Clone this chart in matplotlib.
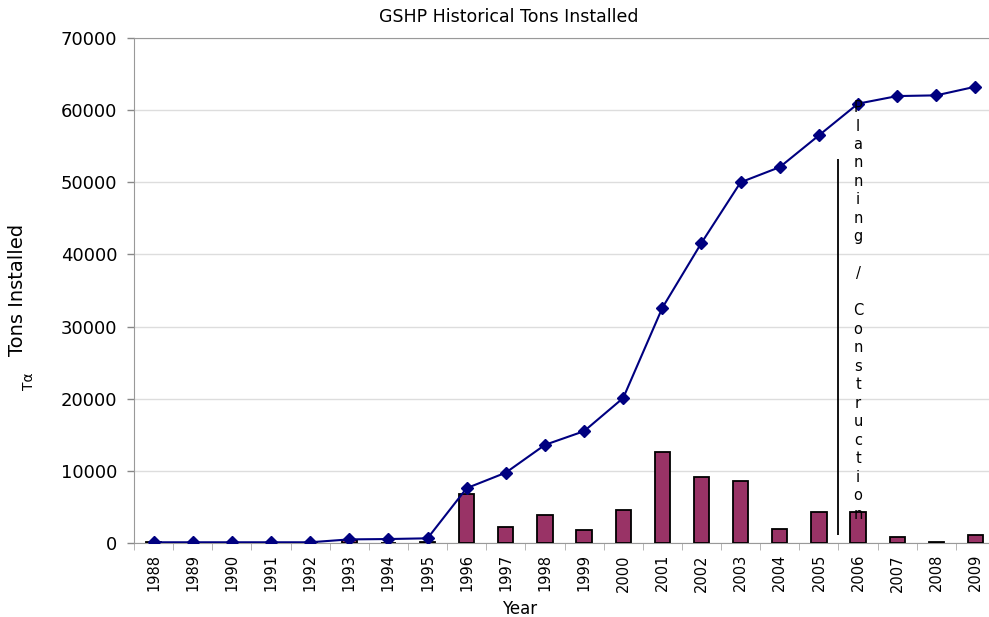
import numpy as np
import matplotlib
matplotlib.use("Agg")
import matplotlib.pyplot as plt

# data
years = [str(y) for y in range(1988, 2010)]
annual_tons = [100, 0, 0, 0, 0, 450, 0, 200, 6800, 2200, 3850, 1850,
               4550, 12550, 9100, 8650, 2000, 4350, 4350, 870, 150, 1150]
cumulative_tons = [100, 100, 100, 100, 100, 500, 550, 650, 7600, 9750, 13600, 15500,
                   20100, 32600, 41600, 50000, 52100, 56500, 60900, 61950, 62050, 63250]
marker_label = "Planning / Construction"

plt.rcParams['font.family'] = ['DejaVu Sans']

fig = plt.figure(figsize=(9.89, 6.17), dpi=100)
ax = fig.add_axes([134/989, 1-543/617, (995-134)/989, (543-38)/617])

x = np.arange(len(years))
ax.bar(x, annual_tons, width=0.39, color='#993366', edgecolor='black', linewidth=1.3, zorder=3)
ax.plot(x, cumulative_tons, color='#000080', linewidth=1.5, marker='D', markersize=6,
        markerfacecolor='#000080', markeredgecolor='#000080', zorder=4)

ax.set_xlim(-0.5, len(years) - 0.5)
ax.set_ylim(0, 70000)
ax.set_yticks(np.arange(0, 70001, 10000))
ax.tick_params(axis='y', labelsize=13, colors='#888888', labelcolor='black', length=5, width=1, pad=7)
ax.grid(axis='y', color='#dddddd', linewidth=1, zorder=0)

ax.set_xticks(x)
ax.set_xticklabels(years, rotation=90, fontsize=10.5)
ax.set_xticks(np.arange(-0.5, len(years), 1), minor=True)
ax.tick_params(axis='x', which='major', length=0, pad=8)
ax.tick_params(axis='x', which='minor', length=5, color='#aaaaaa')

for side in ['left', 'top', 'bottom']:
    ax.spines[side].set_color('#999999')
ax.spines['right'].set_visible(False)

# planning / construction divider
ax.vlines(17.5, 1100, 53200, color='black', linewidth=1.3, zorder=5)
ax.text(18.0, 61400, "\n".join(marker_label), ha='center', va='top', fontsize=10.5,
        linespacing=1.29, zorder=6)

fig.text(509/989, 1-17/617, "GSHP Historical Tons Installed", ha='center', va='center', fontsize=12.5)
fig.text(18/989, 1-290/617, "Tons Installed", ha='center', va='center', rotation=90, fontsize=14)
fig.text(29/989, 1-381/617, "Tα", ha='center', va='center', rotation=90, fontsize=10)
fig.text(520/989, 1-609/617, "Year", ha='center', va='center', fontsize=12)

plt.savefig('out.png', dpi=100)
